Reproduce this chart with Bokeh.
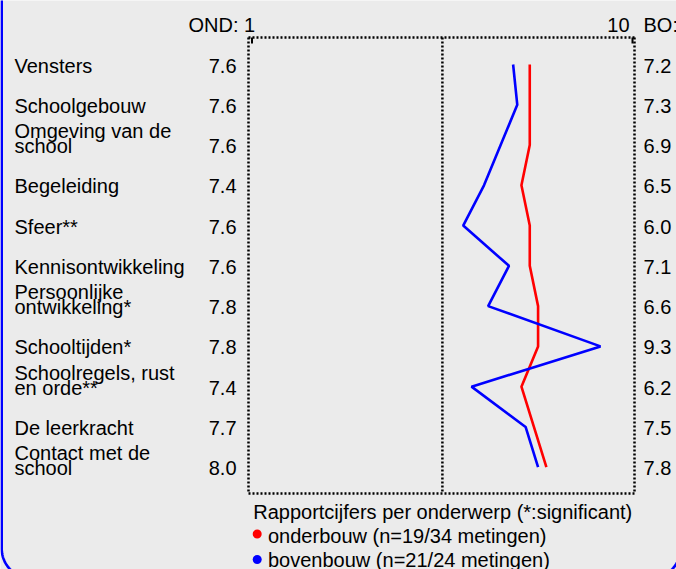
import numpy as np
from bokeh.plotting import figure
from bokeh.models import Range1d
from bokeh.embed import file_html
from bokeh.resources import INLINE
from bokeh.core.properties import value

# ---------------- data ----------------
categories = ["Vensters", "Schoolgebouw", "Omgeving van de\nschool", "Begeleiding",
              "Sfeer**", "Kennisontwikkeling", "Persoonlijke\nontwikkeling*",
              "Schooltijden*", "Schoolregels, rust\nen orde**", "De leerkracht",
              "Contact met de\nschool"]
ond_scores = [7.6, 7.6, 7.6, 7.4, 7.6, 7.6, 7.8, 7.8, 7.4, 7.7, 8.0]
bo_scores = [7.2, 7.3, 6.9, 6.5, 6.0, 7.1, 6.6, 9.3, 6.2, 7.5, 7.8]
scale_ticks = [1, 10]
scale_mid = 5.5
ond_label = "OND:"
bo_label = "BO:"
legend_title = "Rapportcijfers per onderwerp (*:significant)"
series_labels = ["onderbouw (n=19/34 metingen)", "bovenbouw (n=21/24 metingen)"]
series_colors = ["#ff0000", "#0000ff"]

# ---------------- layout ----------------
W, H = 676, 569
PX_UNIT = 41.6          # pixels per grade point
X1_PX = 254.7           # canvas x of grade 1
ROW0_PX = 64.0          # canvas y of first row
ROW_PX = 40.27          # pixels per row

x_start = scale_ticks[0] - X1_PX / PX_UNIT
x_end = x_start + W / PX_UNIT
y_top = -ROW0_PX / ROW_PX
y_bottom = y_top + H / ROW_PX


def xd(px):
    return x_start + np.asarray(px, dtype=float) / PX_UNIT


def yd(py):
    return y_top + np.asarray(py, dtype=float) / ROW_PX


FONT = value("Liberation Sans")
FS = "20px"
TXT = "#000000"
BG = "#ebebeb"

p = figure(width=W, height=H, output_backend="svg", toolbar_location=None,
           x_axis_type=None, y_axis_type=None,
           x_range=Range1d(x_start, x_end), y_range=Range1d(y_bottom, y_top),
           min_border=0, min_border_left=0, min_border_right=0,
           min_border_top=0, min_border_bottom=0)
p.background_fill_color = BG
p.border_fill_color = BG
p.outline_line_color = None
p.grid.visible = False

rows = list(range(len(categories)))

# blue rounded panel border (mostly outside the view)
R = 30.0
t = np.linspace(0, np.pi / 2, 30)
bx = np.concatenate([[1.2, 1.2], 1.2 + R - R * np.cos(t), 650.0 + R * np.sin(t), [680.0, 680.0]])
by = np.concatenate([[-5, 548.0], 548.0 + R * np.sin(t), 548.0 + R * np.cos(t), [548.0, -5]])
p.line(xd(bx), yd(by), line_color="#0000ff", line_width=2.6)

# dotted frame
fl, fr, ft, fb = float(xd(248)), float(xd(634)), float(yd(37)), float(yd(493))
DOT = dict(line_color="black", line_width=2.5, line_dash="2 2")
p.segment(x0=[fl, fl, fl, fr, scale_mid], x1=[fr, fr, fl, fr, scale_mid],
          y0=[ft, fb, ft, ft, ft], y1=[ft, fb, fb, fb, fb], **DOT)
# small ticks near the scale ends
p.segment(x0=[float(xd(251.5)), float(xd(632))], x1=[float(xd(251.5)), float(xd(632))],
          y0=[ft] * 2, y1=[ft + 6 / ROW_PX] * 2, line_color="black", line_width=2)

# lines
p.line(ond_scores, rows, line_color=series_colors[0], line_width=2.6)
p.line(bo_scores, rows, line_color=series_colors[1], line_width=2.6)

# category labels (last line on row, earlier line above)
last_lines, last_y, first_lines, first_y = [], [], [], []
for r, name in zip(rows, categories):
    parts = name.split("\n")
    last_lines.append(parts[-1])
    last_y.append(r)
    if len(parts) > 1:
        first_lines.append(parts[0])
        first_y.append(r)

text_kw = dict(text_font=FONT, text_font_size=FS, text_color=TXT, text_baseline="middle")
name_x = float(xd(14))
p.text(x=[name_x] * len(last_lines), y=last_y, text=last_lines, text_align="left",
       y_offset=1.0, **text_kw)
p.text(x=[name_x] * len(first_lines), y=first_y, text=first_lines, text_align="left",
       y_offset=-14.0, **text_kw)

ond_x = float(xd(236))
bo_x = float(xd(643))
p.text(x=[ond_x] * len(rows), y=rows, text=[f"{v:.1f}" for v in ond_scores],
       text_align="right", y_offset=1.0, **text_kw)
p.text(x=[bo_x] * len(rows), y=rows, text=[f"{v:.1f}" for v in bo_scores],
       text_align="left", y_offset=1.0, **text_kw)

# header
p.text(x=[scale_ticks[0]], y=[-1], text=[f"{ond_label} {scale_ticks[0]}"],
       text_align="right", y_offset=1.0, **text_kw)
p.text(x=[scale_ticks[1]], y=[-1], text=[f"{scale_ticks[1]}"],
       text_align="right", y_offset=1.0, **text_kw)
p.text(x=[bo_x], y=[-1], text=[bo_label], text_align="left", y_offset=1.0, **text_kw)

# legend
p.text(x=[float(xd(252.7))], y=[float(yd(511.7))], text=[legend_title],
       text_align="left", **text_kw)
p.scatter(x=[float(xd(256.7))] * 2, y=[float(yd(533.5)), float(yd(559))], size=9,
          fill_color=series_colors, line_color=None)
p.text(x=[float(xd(267.5))] * 2, y=[float(yd(535.3)), float(yd(559.3))], text=series_labels,
       text_align="left", **text_kw)

open("out.html", "w").write(file_html(p, INLINE))
